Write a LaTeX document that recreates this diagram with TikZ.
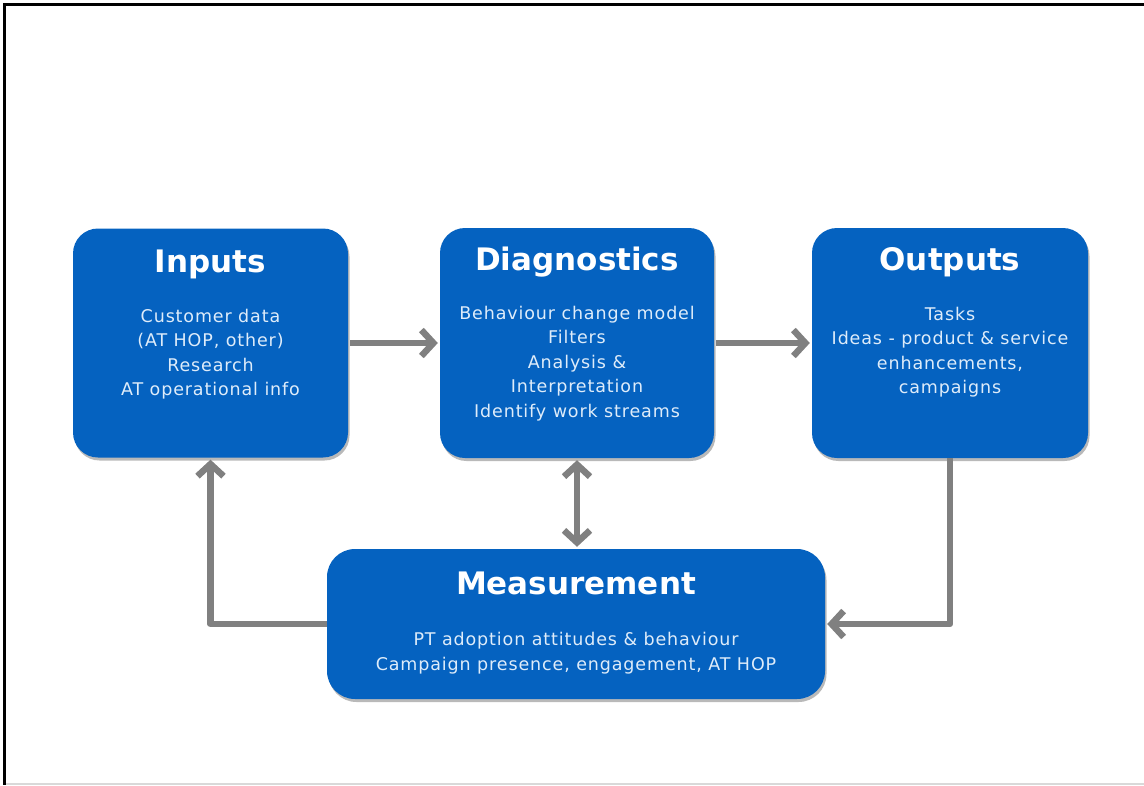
\documentclass[tikz,border=0pt]{standalone}
\usepackage{fontspec}
\setmainfont{DejaVu Sans}
\newfontfamily\bodyfont[LetterSpace=5]{DejaVu Sans}
\usetikzlibrary{arrows.meta,shadows}
\definecolor{boxblue}{RGB}{5,98,192}
\definecolor{arrowgray}{RGB}{128,128,128}
\definecolor{bodytext}{RGB}{222,236,250}
\begin{document}
\begin{tikzpicture}[x=1pt,y=-1pt,
  box/.style={draw=none, fill=boxblue, rounded corners=25pt, inner sep=0pt,
    drop shadow={shadow xshift=1.5pt, shadow yshift=-3pt, fill=black!50, opacity=0.55}},
  titletext/.style={anchor=base, text=white, inner sep=0pt,
    font=\fontsize{31}{36}\selectfont\bfseries},
  bodytxt/.style={anchor=base, text=bodytext, inner sep=0pt, align=center,
    font=\bodyfont\fontsize{17.5}{24.5}\selectfont},
  conn/.style={draw=arrowgray, line width=6.5pt, line join=round,
    -{Straight Barb[length=12pt,width=26pt,line width=6.5pt]}},
  conn2/.style={conn, {Straight Barb[length=12pt,width=26pt,line width=6.5pt]}-{Straight Barb[length=12pt,width=26pt,line width=6.5pt]}},
  frameline/.style={line width=3pt, draw=black}]
\useasboundingbox (0,0) rectangle (1144,785);
% frame
\draw[frameline] (3,4.5) -- (1144,4.5);
\draw[frameline] (4.5,3) -- (4.5,785);
\draw[draw=black!15, line width=1.5pt] (6,784) -- (1144,784);
% boxes
\node[box, minimum width=275pt, minimum height=229pt] (in) at (210.5,343) {};
\node[box, minimum width=274pt, minimum height=230pt] (diag) at (577,343) {};
\node[box, minimum width=276pt, minimum height=230pt] (out) at (950,343) {};
\node[box, minimum width=498pt, minimum height=150pt, rounded corners=28pt] (meas) at (576,624) {};
% titles
\node[titletext] (inT) at (210.5,272) {Inputs};
\node[titletext] (diagT) at (577,270) {Diagnostics};
\node[titletext] (outT) at (950,270) {Outputs};
\node[titletext] (measT) at (576,594) {Measurement};
% bodies (anchor base = baseline of the last line)
\node[bodytxt] (inB) at (210.5,395.5) {Customer data\\(AT HOP, other)\\Research\\AT operational info};
\node[bodytxt] (diagB) at (577,417) {Behaviour change model\\Filters\\Analysis \&\\Interpretation\\Identify work streams};
\node[bodytxt] (outB) at (950,393.5) {Tasks\\Ideas - product \& service\\enhancements,\\campaigns};
\node[bodytxt] (measB) at (576,670) {PT adoption attitudes \& behaviour\\Campaign presence, engagement, AT HOP};
% connectors
\draw[conn, shorten <=2pt, shorten >=2pt] (in.east) -- (diag.west);
\draw[conn, shorten <=2pt, shorten >=2pt] (diag.east) -- (out.west);
\draw[conn2, shorten <=2pt, shorten >=2pt] (diag.south) -- (diag.south |- meas.north);
\draw[conn, shorten >=2pt] (out.south) |- (meas.east);
\draw[conn, shorten >=2pt] (meas.west) -| (in.south);
\end{tikzpicture}
\end{document}
